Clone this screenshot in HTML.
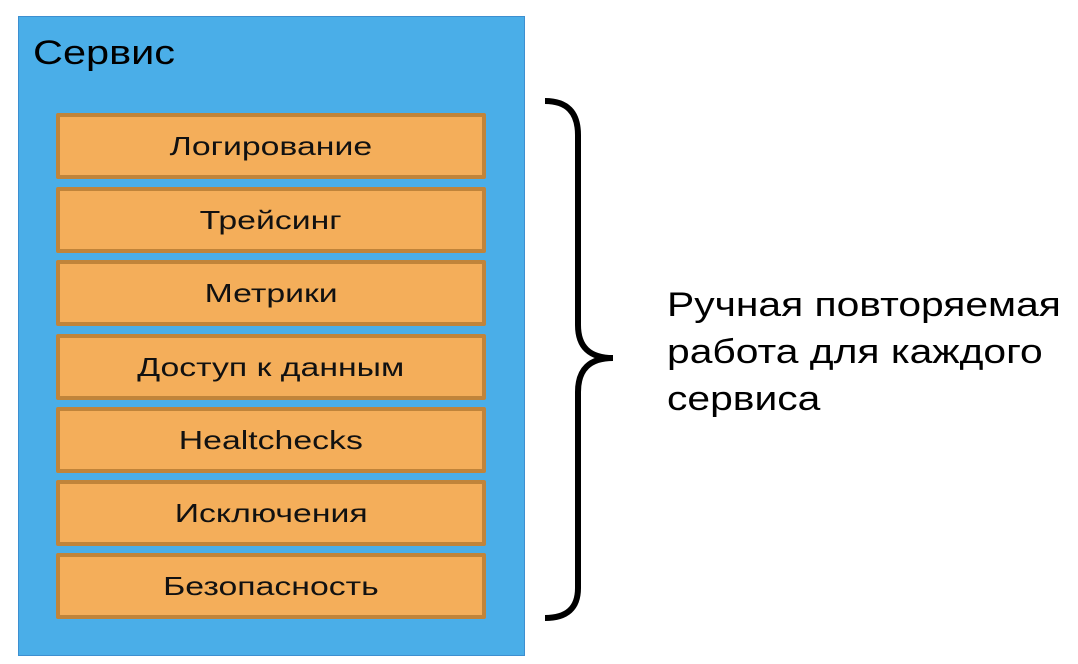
<!DOCTYPE html>
<html><head><meta charset="utf-8"><style>
body{margin:0;width:1078px;height:664px;background:#fff;position:relative;overflow:hidden;font-family:"Liberation Sans","DejaVu Sans",sans-serif;}
.svc{position:absolute;left:18px;top:16px;width:507px;height:640px;background:#4aaee8;border:1px solid #3d8fd0;box-sizing:border-box;}
.title{position:absolute;left:33px;top:34px;font-size:34px;color:#000;transform:scaleX(1.22);transform-origin:0 0;}
.b{position:absolute;left:56px;width:430px;height:66px;box-sizing:border-box;background:#f4ae5a;border:4px solid #c0843a;border-radius:2px;color:#111;display:flex;align-items:center;justify-content:center;}
.b span{font-size:26px;display:inline-block;transform:scaleX(1.3);}
.r{position:absolute;left:667px;top:282px;font-size:34px;line-height:47px;color:#000;transform:scaleX(1.2);transform-origin:0 0;white-space:nowrap;}
</style></head><body>
<div class="svc"></div>
<div class="title">Сервис</div>
<div class="b" style="top:113px"><span>Логирование</span></div>
<div class="b" style="top:187px"><span>Трейсинг</span></div>
<div class="b" style="top:260px"><span>Метрики</span></div>
<div class="b" style="top:334px"><span>Доступ к данным</span></div>
<div class="b" style="top:407px"><span>Healtchecks</span></div>
<div class="b" style="top:480px"><span>Исключения</span></div>
<div class="b" style="top:553px"><span>Безопасность</span></div>
<svg style="position:absolute;left:0;top:0" width="1078" height="664">
<path d="M545,101 Q578,101 578,135 L578,325 Q578,358 613,358 Q578,358 578,392 L578,588 Q578,618 545,618" fill="none" stroke="#000" stroke-width="6"/>
</svg>
<div class="r">Ручная повторяемая<br>работа для каждого<br>сервиса</div>
</body></html>
